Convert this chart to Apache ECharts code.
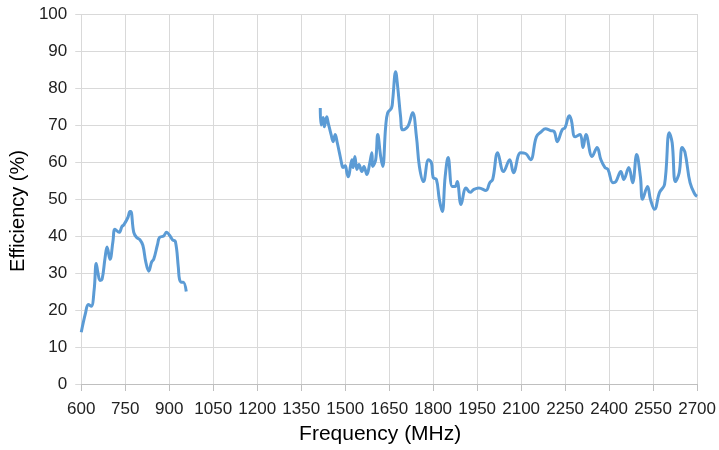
<!DOCTYPE html>
<html><head><meta charset="utf-8">
<script src="https://cdn.jsdelivr.net/npm/echarts@6/dist/echarts.min.js"></script>
<style>html,body{margin:0;padding:0;background:#fff}#c{width:719px;height:450px}</style>
</head><body><div id="c"></div>
<script>
const xTicks = [600,750,900,1050,1200,1350,1500,1650,1800,1950,2100,2250,2400,2550,2700];
const yTicks = [0,10,20,30,40,50,60,70,80,90,100];
const band1Freq = [600,614,624,634,644,651,657,664,671,681,688,698,708,715,729,739,745,759,766,769,779,789,800,810,820,830,840,847,860,867,881,891,901,911,921,931,935,942,948,958];
const band1Eff  = [14,19,21.5,21,25.5,32.6,30,28,28.3,34,37,33.7,38.5,41.8,41,42.6,43,45,46.6,46.6,41,39.6,39,37.5,33,30.5,33,33.7,37.7,39.6,40,41,40.2,39,38.5,31.5,28.3,27.5,27.5,25];
const band2Freq = [1415,1418,1425,1429,1437,1442,1452,1459,1466,1473,1483,1490,1493,1500,1506,1510,1523,1527,1533,1540,1547,1557,1564,1574,1584,1591,1594,1604,1611,1621,1628,1638,1645,1658,1662,1672,1679,1689,1696,1713,1730,1743,1753,1767,1784,1794,1800,1811,1821,1831,1841,1851,1865,1875,1882,1895,1912,1926,1939,1956,1980,1993,2003,2020,2040,2061,2074,2098,2115,2132,2152,2169,2183,2200,2213,2223,2240,2250,2264,2271,2284,2301,2311,2321,2342,2359,2372,2386,2396,2413,2423,2440,2450,2467,2480,2494,2507,2514,2531,2541,2555,2572,2589,2605,2615,2626,2639,2649,2659,2676,2693,2700];
const band2Eff  = [74.6,70,72,69.5,72.2,70.6,67.4,65.5,67.4,65.2,61.5,58.8,58.5,59,57,56,60.6,58.5,61.5,58,59.3,57.4,58.8,56.6,59.8,62.5,58.8,60.6,67.4,61.5,58.8,69.5,73.3,74.6,76.8,84.4,80.3,72.2,68.7,69.5,73.3,66.8,58.8,54.7,60.6,59.8,55.8,55.3,49.9,46.6,56.1,61.2,53.4,53.4,54.7,48.5,53,51.8,52.6,53,52.3,54.4,55.3,62.5,57.4,60.6,57.1,62.5,62.3,60.6,66.8,68.2,69,68.5,68.2,65.5,68.7,69.3,72.5,71.4,66.8,67.4,63.9,67.4,61.5,63.9,60.6,58.5,58,54.4,54.7,57.4,55.3,58.5,54.4,62,55.8,49.9,53.4,49.9,47.2,51.8,53.9,67.9,65.2,54.7,57.1,63.9,62.5,54.4,51.2,50.7];

const data = [];
band1Freq.forEach((f,i)=>data.push([f, band1Eff[i]]));
data.push([1200, null]);
band2Freq.forEach((f,i)=>data.push([f, band2Eff[i]]));

const font = "'Liberation Sans Narrow', 'Liberation Sans', Arial, sans-serif";
const chart = echarts.init(document.getElementById('c'), null, {renderer:'canvas'});
chart.setOption({
  animation:false,
  grid:{left:79,right:19,top:14,bottom:65,containLabel:false},
  xAxis:{
    type:'value', min:xTicks[0], max:xTicks[xTicks.length-1], interval:150,
    name:'Frequency (MHz)', nameLocation:'middle', nameGap:40,
    nameTextStyle:{fontFamily:font,fontSize:21,color:'#000',padding:[0,18,0,0]},
    axisLine:{lineStyle:{color:'#bfbfbf',width:1}},
    axisTick:{show:true,length:7,lineStyle:{color:'#bfbfbf'}},
    axisLabel:{fontFamily:font,fontSize:17,color:'#222',margin:17,formatter:v=>String(v)},
    splitLine:{show:true,lineStyle:{color:'#d9d9d9',width:1}}
  },
  yAxis:{
    type:'value', min:yTicks[0], max:yTicks[yTicks.length-1], interval:10,
    name:'Efficiency (%)', nameLocation:'middle', nameGap:50, nameRotate:90,
    nameTextStyle:{fontFamily:font,fontSize:20,color:'#000',padding:[0,24,0,0]},
    axisLine:{show:false},
    axisTick:{show:true,length:6,lineStyle:{color:'#d9d9d9'}},
    axisLabel:{fontFamily:font,fontSize:17,color:'#222',margin:14,formatter:v=>String(v)},
    splitLine:{show:true,lineStyle:{color:'#d9d9d9',width:1}}
  },
  series:[{
    type:'line', data:data, smooth:0.4, showSymbol:false, connectNulls:false,
    lineStyle:{color:'#5b9bd5',width:3}
  }]
});
</script></body></html>
